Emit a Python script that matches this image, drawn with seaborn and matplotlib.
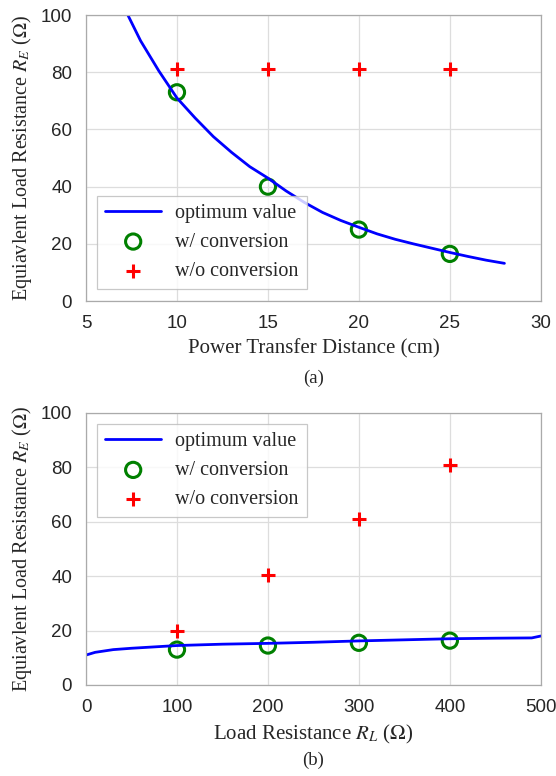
import numpy as np
import matplotlib.pyplot as plt
import seaborn as sns

# (a) equivalent load resistance vs. power transfer distance
dist_curve = [7.3, 8, 9, 10, 11, 12, 13, 14, 15, 16, 17, 18, 19, 20, 21, 22, 23, 24, 25, 26, 27, 28]
re_curve_a = [100, 91, 80.5, 71, 64, 57.5, 52, 47, 43, 38.5, 34.5, 31, 28.2, 25.8, 23.5, 21.6, 20, 18.5, 17, 15.6, 14.3, 13.2]
dist_pts = [10, 15, 20, 25]
re_conv_a = [73, 40, 25, 16.5]
re_noconv_a = [81, 81, 81, 81]

# (b) equivalent load resistance vs. load resistance
rl_curve = [0, 10, 20, 30, 50, 75, 100, 150, 200, 250, 300, 350, 400, 450, 490, 500]
re_curve_b = [11, 12, 12.5, 13, 13.5, 14, 14.5, 15, 15.3, 15.7, 16.2, 16.6, 17, 17.2, 17.3, 18]
rl_pts = [100, 200, 300, 400]
re_conv_b = [13, 14.5, 15.5, 16.3]
re_noconv_b = [20, 40.5, 61, 81]

sns.set_theme(style="whitegrid")
plt.rcParams['font.family'] = ['Liberation Serif', 'DejaVu Serif']
plt.rcParams['mathtext.fontset'] = 'stix'

fig = plt.figure(figsize=(5.56, 7.76), dpi=100)
ax1 = fig.add_axes([0.1547, 0.612, 0.818, 0.3686])
ax2 = fig.add_axes([0.1547, 0.1173, 0.818, 0.3505])

panels = [
    (ax1, dist_curve, re_curve_a, dist_pts, re_conv_a, re_noconv_a,
     (5, 30), [5, 10, 15, 20, 25, 30], "Power Transfer Distance (cm)", "(a)", -0.27,
     dict(loc="lower left", bbox_to_anchor=(0.024, 0.042))),
    (ax2, rl_curve, re_curve_b, rl_pts, re_conv_b, re_noconv_b,
     (0, 500), [0, 100, 200, 300, 400, 500], r"Load Resistance $R_L$ ($\Omega$)", "(b)", -0.276,
     dict(loc="upper left", bbox_to_anchor=(0.024, 0.96))),
]

for ax, xc, yc, xp, yconv, ynoconv, xlim, xticks, xlabel, tag, tagy, legkw in panels:
    sns.lineplot(x=xc, y=yc, ax=ax, color="blue", lw=2, label="optimum value")
    sns.scatterplot(x=xp, y=yconv, ax=ax, marker="o", s=120, facecolor="none",
                    edgecolor="green", linewidth=2.2, label="w/ conversion")
    sns.scatterplot(x=xp, y=ynoconv, ax=ax, marker="+", s=100, color="red",
                    linewidth=2.2, label="w/o conversion")
    ax.set_xlim(*xlim)
    ax.set_ylim(0, 100)
    ax.set_xticks(xticks)
    ax.set_yticks([0, 20, 40, 60, 80, 100])
    ax.grid(True, color="#dddddd", lw=0.9)
    for s in ax.spines.values():
        s.set_color("#aaaaaa")
        s.set_linewidth(0.9)
    for lab in ax.get_xticklabels() + ax.get_yticklabels():
        lab.set_fontfamily(['Liberation Sans', 'DejaVu Sans'])
        lab.set_fontsize(13.5)
    ax.tick_params(pad=4)
    ax.set_xlabel(xlabel, fontsize=15, labelpad=5)
    ax.set_ylabel(r"Equiavlent Load Resistance $R_E$ ($\Omega$)", fontsize=14.5, labelpad=5)
    ax.text(0.5, tagy, tag, transform=ax.transAxes, ha="center", va="center", fontsize=13.5)
    leg = ax.legend(fontsize=14.5, frameon=True, fancybox=False, edgecolor="#bbbbbb",
                    borderpad=0.4, labelspacing=0.5, handlelength=2.8, handletextpad=0.7,
                    borderaxespad=0, **legkw)
    leg.get_frame().set_linewidth(0.9)

fig.savefig("out.png", dpi=100, facecolor="white")
